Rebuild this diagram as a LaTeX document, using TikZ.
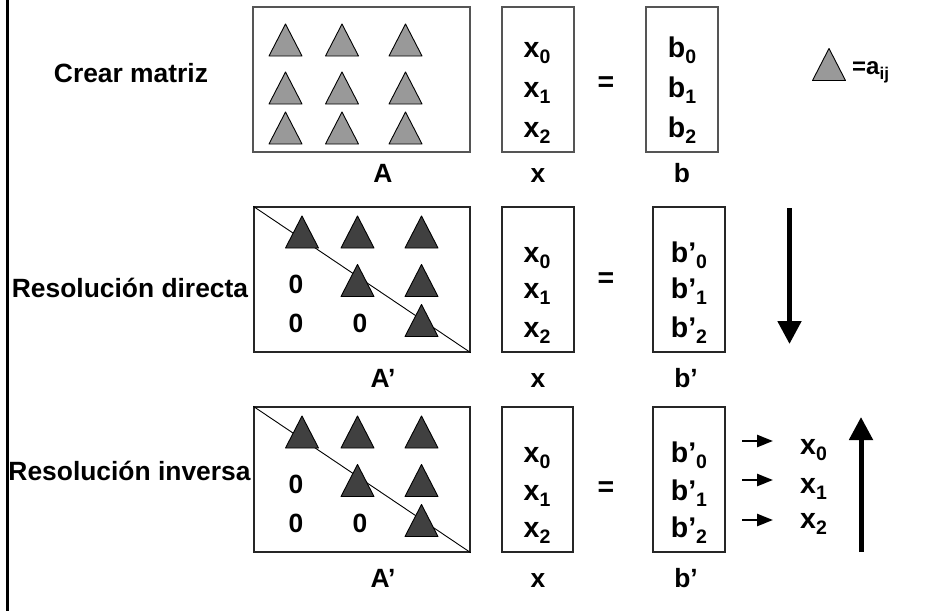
\documentclass[tikz,border=0pt]{standalone}
\usepackage{fontspec}
\setmainfont{Liberation Sans}
\usetikzlibrary{arrows.meta}
\definecolor{tlight}{HTML}{999999}
\definecolor{tdark}{HTML}{404040}
\definecolor{boxgray}{HTML}{555555}
\newcommand\lblfont{\bfseries\fontsize{26.4}{30}\selectfont}
\newcommand\cellfont{\bfseries\fontsize{28.5}{32}\selectfont}
\newcommand\subfont{\bfseries\fontsize{19.5}{20}\selectfont}
\newcommand\mysub[1]{\raisebox{-6.5pt}{\subfont #1}}
\begin{document}
\begin{tikzpicture}[x=1pt,y=-1pt,
  box/.style={draw=boxgray,line width=1.3pt,inner sep=0pt},
  lbl/.style={font=\lblfont,inner sep=0pt,anchor=base},
  cell/.style={font=\cellfont,inner sep=0pt,anchor=base},
  tri/.pic={\draw[pic actions,line width=0.9pt,line join=round] (-16.5,16) -- (16.5,16) -- (0,-16) -- cycle;},
  light/.style={fill=tlight,draw=black},
  dark/.style={fill=tdark,draw=black},
  bigarrow/.style={line width=5pt,-{Triangle[width=23pt,length=23pt]}},
  smallarrow/.style={line width=2.5pt,-{Triangle[width=12pt,length=16pt]}}]
\useasboundingbox (0,0) rectangle (951,611);
% left frame line
\coordinate (ft) at (7,0);
\coordinate (fb) at (7,611);
\draw[line width=3pt] (ft) -- (fb);

% ---------- Row 1 ----------
\node[lbl] (t1) at (131,82) {Crear matriz};
\node[box,minimum width=217pt,minimum height=145pt] (A1) at (361.5,79.5) {};
\foreach \cx in {285.5,342,405.5}
  \foreach \cy in {40,88,128}
    \pic[light] at (\cx,\cy) {tri};
\node[box,minimum width=72pt,minimum height=145pt] (X1) at (538,79.5) {};
\node[cell] (x10) at (537,57) {x\mysub{0}};
\node[cell] (x11) at (537,97) {x\mysub{1}};
\node[cell] (x12) at (537,137) {x\mysub{2}};
\node[cell] (eq1) at (606,91) {=};
\node[box,minimum width=72pt,minimum height=145pt] (B1) at (682,79.5) {};
\node[cell] (b10) at (682,57) {b\mysub{0}};
\node[cell] (b11) at (682,97) {b\mysub{1}};
\node[cell] (b12) at (682,137) {b\mysub{2}};
\node[lbl] (la1) at (383,182) {A};
\node[lbl] (lx1) at (538,182) {x};
\node[lbl] (lb1) at (682,182) {b};
% legend
\pic[light] at (829,64.5) {tri};
\node[font=\bfseries\fontsize{24}{26}\selectfont,inner sep=0pt,anchor=base west] (leg) at (852,74)
  {=a\raisebox{-5pt}{\bfseries\fontsize{17}{18}\selectfont ij}};

% ---------- Row 2 ----------
\node[lbl] (t2) at (130,297) {Resolución directa};
\node[box,draw=black!85,minimum width=216pt,minimum height=145pt] (A2) at (362,279.5) {};
\draw[line width=0.9pt] (A2.north west) -- (A2.south east);
\foreach \cx in {302,357.5,421.5} \pic[dark] at (\cx,232) {tri};
\foreach \cx in {357.5,421.5} \pic[dark] at (\cx,280.5) {tri};
\pic[dark] at (421.5,320.5) {tri};
\node[lbl] (z21) at (296,293) {0};
\node[lbl] (z31) at (296,332) {0};
\node[lbl] (z32) at (360,332) {0};
\node[box,draw=black!85,minimum width=72pt,minimum height=145pt] (X2) at (538,279.5) {};
\node[cell] (x20) at (537,262) {x\mysub{0}};
\node[cell] (x21) at (537,298) {x\mysub{1}};
\node[cell] (x22) at (537,337) {x\mysub{2}};
\node[cell] (eq2) at (606,287) {=};
\node[box,draw=black!85,minimum width=72pt,minimum height=145pt] (B2) at (689,279.5) {};
\node[cell] (b20) at (689,262) {b’\mysub{0}};
\node[cell] (b21) at (689,298) {b’\mysub{1}};
\node[cell] (b22) at (689,337) {b’\mysub{2}};
\node[lbl] (la2) at (383,387) {A’};
\node[lbl] (lx2) at (538,387) {x};
\node[lbl] (lb2) at (686,387) {b’};
\coordinate (d1) at (789.5,208);
\coordinate (d2) at (789.5,344);
\draw[bigarrow] (d1) -- (d2);

% ---------- Row 3 ----------
\node[lbl] (t3) at (129.5,480) {Resolución inversa};
\node[box,draw=black!85,minimum width=216pt,minimum height=145pt] (A3) at (362,479.5) {};
\draw[line width=0.9pt] (A3.north west) -- (A3.south east);
\foreach \cx in {302,357.5,421.5} \pic[dark] at (\cx,432) {tri};
\foreach \cx in {357.5,421.5} \pic[dark] at (\cx,480.5) {tri};
\pic[dark] at (421.5,520.5) {tri};
\node[lbl] (z41) at (296,493) {0};
\node[lbl] (z51) at (296,532) {0};
\node[lbl] (z52) at (360,532) {0};
\node[box,draw=black!85,minimum width=71pt,minimum height=145pt] (X3) at (537.5,479.5) {};
\node[cell] (x30) at (537,462) {x\mysub{0}};
\node[cell] (x31) at (537,500) {x\mysub{1}};
\node[cell] (x32) at (537,537) {x\mysub{2}};
\node[cell] (eq3) at (606,496) {=};
\node[box,draw=black!85,minimum width=72pt,minimum height=145pt] (B3) at (689,479.5) {};
\node[cell] (b30) at (689,462) {b’\mysub{0}};
\node[cell] (b31) at (689,500) {b’\mysub{1}};
\node[cell] (b32) at (689,537) {b’\mysub{2}};
\node[lbl] (la3) at (383,587) {A’};
\node[lbl] (lx3) at (538,587) {x};
\node[lbl] (lb3) at (686,587) {b’};
\node[cell,anchor=base west] (o0) at (800,454) {x\mysub{0}};
\node[cell,anchor=base west] (o1) at (800,493) {x\mysub{1}};
\node[cell,anchor=base west] (o2) at (800,528) {x\mysub{2}};
\coordinate (s0) at (742,441);
\coordinate (s1) at (742,480);
\coordinate (s2) at (742,520);
\coordinate (e0) at (773,441);
\coordinate (e1) at (773,480);
\coordinate (e2) at (773,520);
\draw[smallarrow] (s0) -- (e0);
\draw[smallarrow] (s1) -- (e1);
\draw[smallarrow] (s2) -- (e2);
\coordinate (u1) at (861,552);
\coordinate (u2) at (861,417);
\draw[bigarrow] (u1) -- (u2);
\end{tikzpicture}
\end{document}
